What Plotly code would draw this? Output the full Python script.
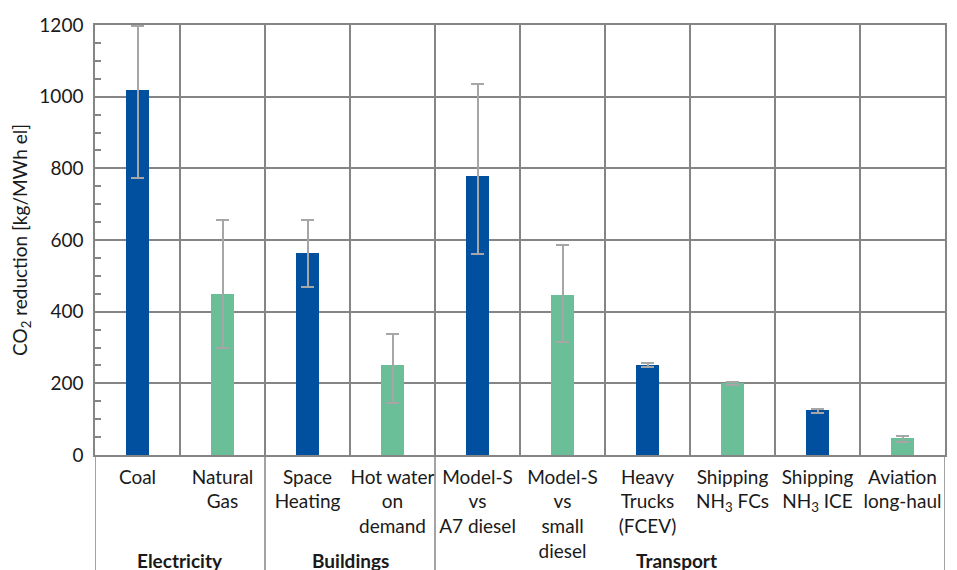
import plotly.graph_objects as go

categories = ["Coal", "Natural Gas", "Space Heating", "Hot water on demand",
              "Model-S vs A7 diesel", "Model-S vs small diesel", "Heavy Trucks (FCEV)",
              "Shipping NH3 FCs", "Shipping NH3 ICE", "Aviation long-haul"]
tick_labels = ["Coal", "Natural<br>Gas", "Space<br>Heating", "Hot water<br>on<br>demand",
               "Model-S<br>vs<br>A7 diesel", "Model-S<br>vs<br>small<br>diesel",
               "Heavy<br>Trucks<br>(FCEV)", "Shipping<br>NH<sub>3</sub> FCs",
               "Shipping<br>NH<sub>3</sub> ICE", "Aviation<br>long-haul"]
values = [1020, 449, 564, 251, 779, 447, 251, 201, 126, 47]
err_high = [1197, 656, 656, 338, 1035, 586, 256, 205, 128, 53]
err_low = [773, 299, 469, 145, 561, 315, 245, 194, 117, 36]
groups = ["Electricity", "Buildings", "Transport"]
group_members = [["Coal", "Natural Gas"],
                 ["Space Heating", "Hot water on demand"],
                 ["Model-S vs A7 diesel", "Model-S vs small diesel", "Heavy Trucks (FCEV)",
                  "Shipping NH3 FCs", "Shipping NH3 ICE", "Aviation long-haul"]]

BLUE = "#00509F"
GREEN = "#6BBF98"
GRID = "#858585"
FONT = "Lato"
FS = 19

colors = [BLUE if i % 2 == 0 else GREEN for i in range(len(categories))]
plus = [h - v for h, v in zip(err_high, values)]
minus = [v - l for l, v in zip(err_low, values)]

fig = go.Figure()
fig.add_trace(go.Bar(
    x=categories, y=values, width=0.28,
    marker=dict(color=colors, line=dict(width=0)),
    error_y=dict(type="data", symmetric=False, array=plus, arrayminus=minus,
                 color="#A6A6A6", thickness=2, width=6.5),
    showlegend=False,
))

# the page body adds an 8px offset; margins compensate for it
fig.update_layout(
    width=957, height=570,
    margin=dict(l=87, r=20, t=17, b=123, autoexpand=False),
    paper_bgcolor="white", plot_bgcolor="white",
    font=dict(family=FONT, size=FS, color="#1a1a1a"),
    bargap=0,
)
fig.update_xaxes(
    type="category", tickmode="array", tickvals=categories, ticktext=tick_labels,
    tickson="boundaries", showgrid=True, gridcolor=GRID, gridwidth=1.5,
    ticks="", showline=True, linecolor=GRID, linewidth=1.5, mirror=True,
    range=[-0.5, len(categories) - 0.5], tickfont=dict(size=FS), tickangle=0,
    ticklabelstandoff=4, automargin=False,
)
fig.update_yaxes(
    range=[0, 1200], dtick=200, showgrid=True, gridcolor=GRID, gridwidth=1.5,
    showline=True, linecolor=GRID, linewidth=1.5, mirror=True,
    ticks="", zeroline=False, tickfont=dict(size=FS), ticklabelstandoff=6,
    minor=dict(dtick=50, ticks="inside", ticklen=6, tickcolor=GRID, tickwidth=1.5, showgrid=False),
    title=dict(text="CO<sub>2</sub> reduction [kg/MWh el]", font=dict(size=FS), standoff=14),
    automargin=False,
)

# group separators below the axis and group labels
idx = {c: i for i, c in enumerate(categories)}
bounds = [idx[group_members[0][0]] - 0.5] + [idx[m[-1]] + 0.5 for m in group_members]
for b in bounds:
    fig.add_shape(type="line", xref="x", yref="paper", x0=b, x1=b, y0=0, y1=-0.3,
                  line=dict(color=GRID, width=1.5))
for g, m in zip(groups, group_members):
    center = (idx[m[0]] + idx[m[-1]]) / 2
    if g == "Transport":
        center -= 0.16
    fig.add_annotation(x=center, xref="x", y=-0.246, yref="paper", yanchor="middle",
                       text=f"<b>{g}</b>", showarrow=False, font=dict(size=FS, color="#1a1a1a"))

fig.write_html("out.html")
